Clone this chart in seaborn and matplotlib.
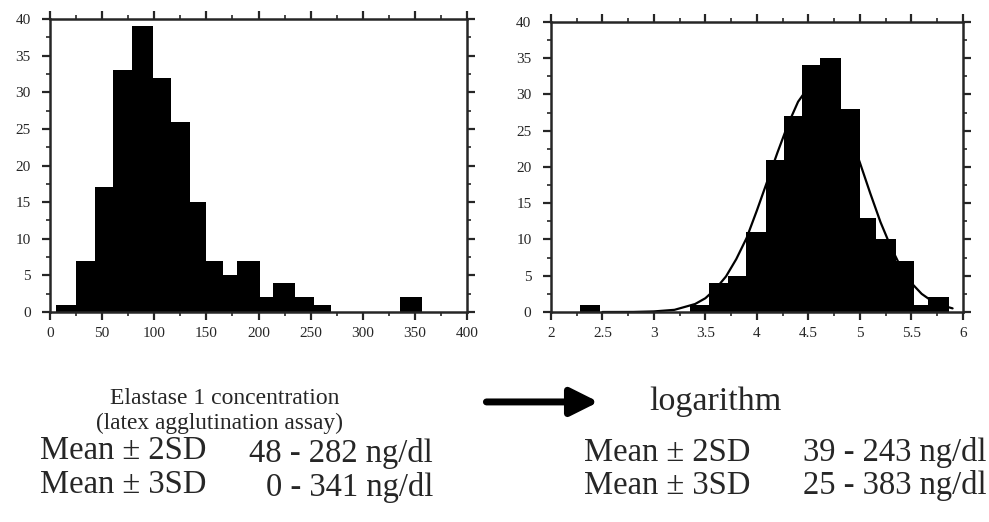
import numpy as np
import pandas as pd
import matplotlib
matplotlib.use("Agg")
import matplotlib.pyplot as plt
import seaborn as sns
from matplotlib.ticker import MultipleLocator, FuncFormatter

# Left histogram: elastase 1 concentration (ng/dl), bin edges and counts
left_edges = [6, 25, 43, 60, 79, 99, 116, 134, 150, 166, 179, 201, 214, 235, 253, 270, 336, 357]
left_counts = [1, 7, 17, 33, 39, 32, 26, 15, 7, 5, 7, 2, 4, 2, 1, 0, 2]

# Right histogram: logarithm of concentration
right_edges = [2.28, 2.48, 3.35, 3.54, 3.72, 3.89, 4.09, 4.26, 4.44, 4.61, 4.82,
               5.00, 5.16, 5.35, 5.53, 5.66, 5.87]
right_counts = [1, 0, 1, 4, 5, 11, 21, 27, 34, 35, 28, 13, 10, 7, 1, 2]

# fitted normal curve on the right chart
curve_x = [2.5, 2.8, 3.0, 3.2, 3.4, 3.5, 3.6, 3.7, 3.8, 3.9, 4.0, 4.1, 4.2, 4.3, 4.4,
           4.5, 4.6, 4.7, 4.8, 4.9, 5.0, 5.1, 5.2, 5.3, 5.4, 5.5, 5.6, 5.7, 5.8, 5.9]
curve_y = [0.0, 0.01, 0.08, 0.3, 1.1, 1.9, 3.2, 4.9, 7.3, 10.2, 14.0, 18.0, 22.0, 25.8, 29.0,
           31.0, 31.4, 30.3, 27.9, 24.6, 20.6, 16.4, 12.4, 9.0, 6.1, 4.0, 2.5, 1.5, 0.9, 0.5]

left_xticks = [0, 50, 100, 150, 200, 250, 300, 350, 400]
right_xticks = [2, 2.5, 3, 3.5, 4, 4.5, 5, 5.5, 6]
yticks = [0, 5, 10, 15, 20, 25, 30, 35, 40]

left_stats = ["48 - 282 ng/dl", "0 - 341 ng/dl"]
right_stats = ["39 - 243 ng/dl", "25 - 383 ng/dl"]
stat_names = ["Mean \u00b1 2SD", "Mean \u00b1 3SD"]

sns.set_style("ticks")
plt.rcParams['font.family'] = ['Liberation Serif', 'DejaVu Serif']

left_df = pd.DataFrame({
    'x': [(a + b) / 2 for a, b in zip(left_edges[:-1], left_edges[1:])],
    'n': left_counts})
right_df = pd.DataFrame({
    'x': [(a + b) / 2 for a, b in zip(right_edges[:-1], right_edges[1:])],
    'n': right_counts})
curve_df = pd.DataFrame({'x': curve_x, 'y': curve_y})

fig = plt.figure(figsize=(9.89, 5.22), dpi=100)
ax1 = fig.add_axes([0.0506, 0.4023, 0.4216, 0.5613])
ax2 = fig.add_axes([0.557, 0.4023, 0.4166, 0.5556])

sns.histplot(data=left_df, x='x', weights='n', bins=left_edges, color='black',
             alpha=1, linewidth=0, ax=ax1)
sns.histplot(data=right_df, x='x', weights='n', bins=right_edges, color='black',
             alpha=1, linewidth=0, ax=ax2)
sns.lineplot(data=curve_df, x='x', y='y', color='black', linewidth=1.6, ax=ax2)

ax1.set_xlim(0, 400)
ax2.set_xlim(2, 6)
for ax, xt, minor in [(ax1, left_xticks, 25), (ax2, right_xticks, 0.25)]:
    ax.set_ylim(0, 40)
    ax.set_xticks(xt)
    ax.set_yticks(yticks)
    ax.xaxis.set_minor_locator(MultipleLocator(minor))
    ax.yaxis.set_minor_locator(MultipleLocator(2.5))
    ax.xaxis.set_major_formatter(FuncFormatter(lambda v, p: '%g' % v))
    ax.set_xlabel('')
    ax.set_ylabel('')
    for s in ax.spines.values():
        s.set_visible(True)
        s.set_linewidth(1.8)
    ax.tick_params(which='major', direction='out', length=6, width=1.6,
                   top=True, right=True, labelsize=11)
    ax.tick_params(axis='y', which='major', pad=8)
    ax.tick_params(axis='x', which='major', pad=5)
    ax.tick_params(which='minor', direction='out', length=3, width=1.2,
                   top=True, right=True)

# captions below the charts
fig.text(0.2275, 0.2375, "Elastase 1 concentration", ha='center', va='center', fontsize=17)
fig.text(0.2224, 0.1897, "(latex agglutination assay)", ha='center', va='center', fontsize=16.8)
fig.text(0.656, 0.230, "logarithm", ha='left', va='center', fontsize=24.5)
ax1.annotate('', xy=(0.608, 0.230), xytext=(0.489, 0.230),
             xycoords='figure fraction', textcoords='figure fraction',
             arrowprops=dict(arrowstyle='-|>', color='black', lw=5, mutation_scale=42),
             annotation_clip=False)

rows_y = [0.136, 0.072]
for name, ls, rs, y in zip(stat_names, left_stats, right_stats, rows_y):
    fig.text(0.040, y, name, ha='left', va='center', fontsize=23.5)
    fig.text(0.438, y - 0.005, ls, ha='right', va='center', fontsize=23.5)
    fig.text(0.590, y - 0.003, name, ha='left', va='center', fontsize=23.5)
    fig.text(0.812, y - 0.003, rs, ha='left', va='center', fontsize=23.5)

fig.savefig('out.png', dpi=100)
